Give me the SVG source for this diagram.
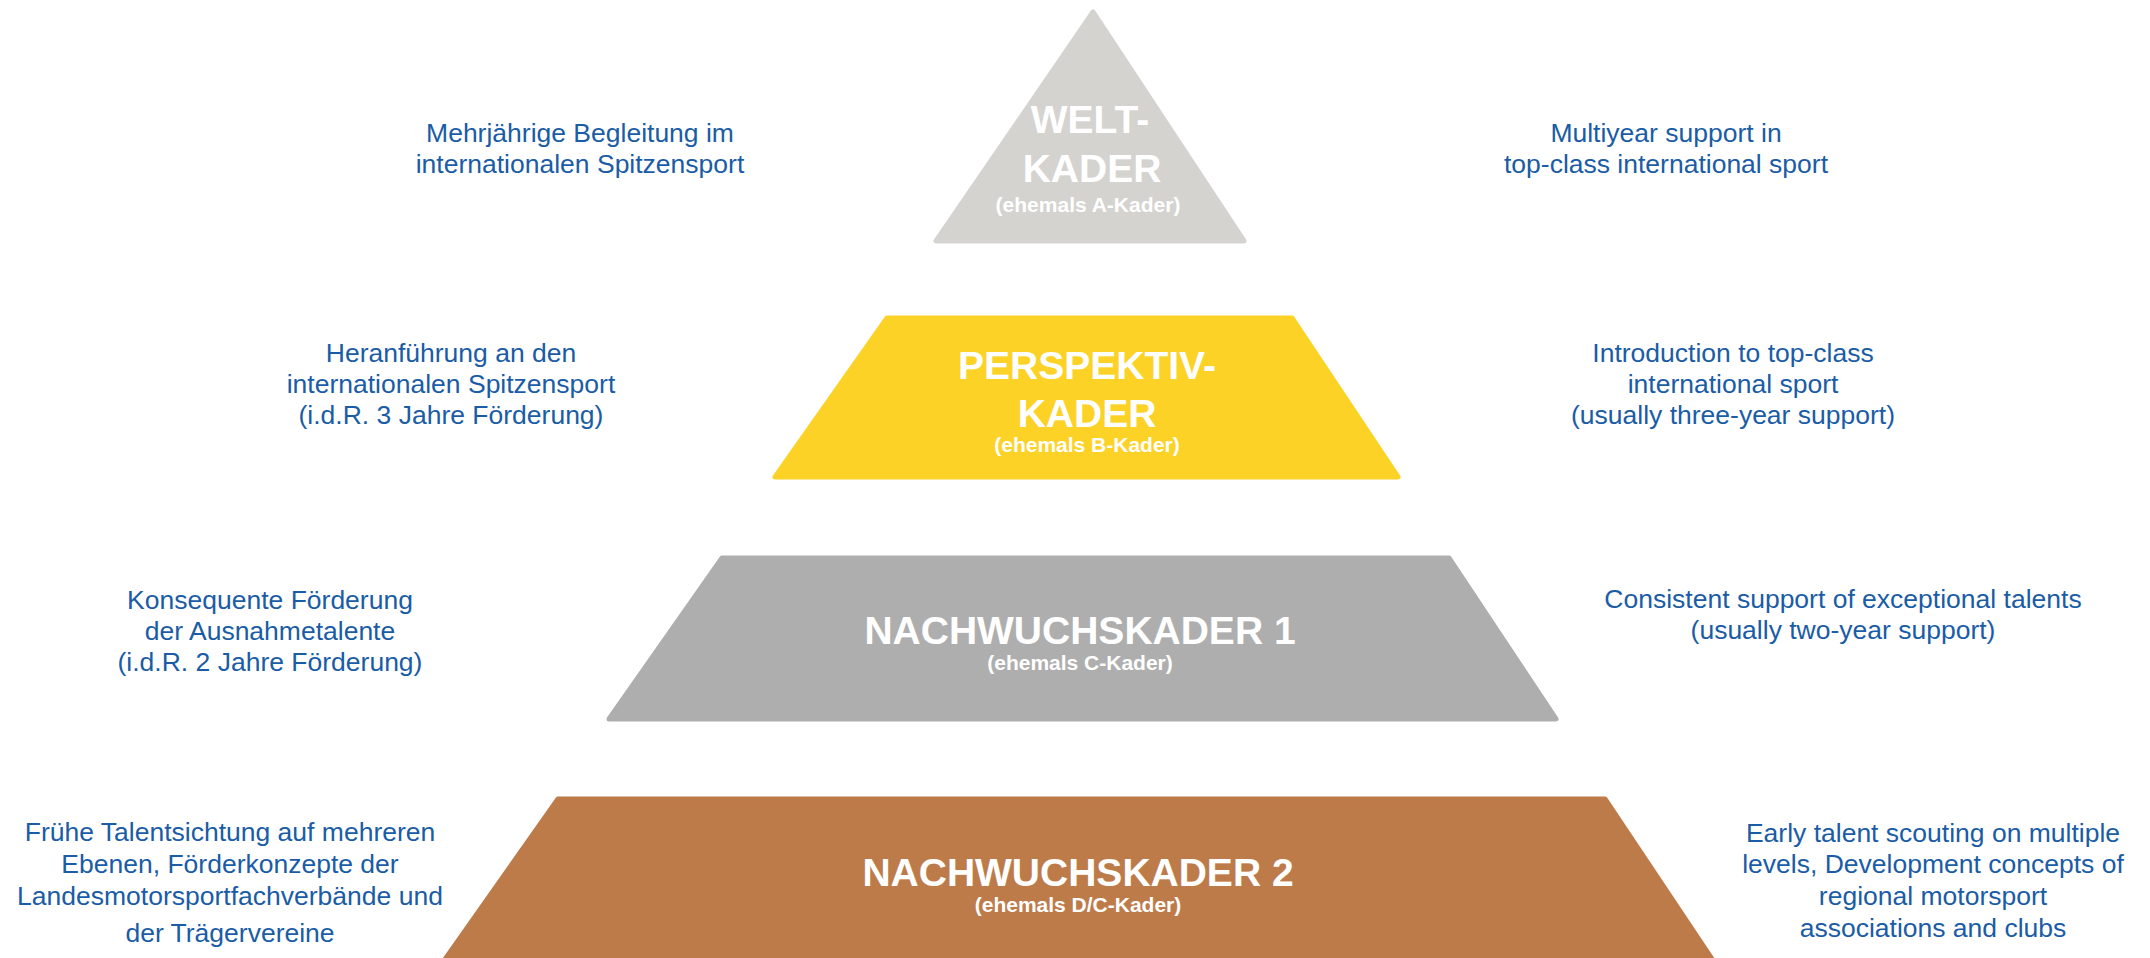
<svg xmlns="http://www.w3.org/2000/svg" width="2150" height="958" viewBox="0 0 2150 958">
<style>
.title{font-family:"Liberation Sans",Arial,sans-serif;font-weight:bold;font-size:39px;fill:#ffffff;text-anchor:middle}
.sub{font-family:"Liberation Sans",Arial,sans-serif;font-weight:bold;font-size:21px;fill:#ffffff;text-anchor:middle}
.desc{font-family:"Liberation Sans",Arial,sans-serif;font-size:26.5px;fill:#1a5ca5;text-anchor:middle}
.shape{stroke-linejoin:round;stroke-width:5}
</style>
<rect width="2150" height="958" fill="#ffffff"/>
<g id="level-welt">
<polygon class="shape" points="1093,12 936,241 1244,241" fill="#d4d3cf" stroke="#d4d3cf"/>
<text class="title" x="1090" y="133">WELT-</text>
<text class="title" x="1092" y="182">KADER</text>
<text class="sub" x="1088" y="212">(ehemals A-Kader)</text>
</g>
<g id="level-perspektiv">
<polygon class="shape" points="887,318 1292,318 1398,477 775,477" fill="#fdd226" stroke="#fdd226"/>
<text class="title" x="1087" y="379">PERSPEKTIV-</text>
<text class="title" x="1087" y="427">KADER</text>
<text class="sub" x="1087" y="452">(ehemals B-Kader)</text>
</g>
<g id="level-nachwuchs1">
<polygon class="shape" points="722,558 1449,558 1556,719 609,719" fill="#aeaeae" stroke="#aeaeae"/>
<text class="title" x="1080" y="644">NACHWUCHSKADER 1</text>
<text class="sub" x="1080" y="670">(ehemals C-Kader)</text>
</g>
<g id="level-nachwuchs2">
<polygon class="shape" points="558,799 1605,799 1716,965 441,965" fill="#be7b4a" stroke="#be7b4a"/>
<text class="title" x="1078" y="886">NACHWUCHSKADER 2</text>
<text class="sub" x="1078" y="912">(ehemals D/C-Kader)</text>
</g>
<g id="desc-welt-de">
<text class="desc" x="580" y="142">Mehrjährige Begleitung im</text>
<text class="desc" x="580" y="173">internationalen Spitzensport</text>
</g>
<g id="desc-welt-en">
<text class="desc" x="1666" y="142">Multiyear support in</text>
<text class="desc" x="1666" y="173">top-class international sport</text>
</g>
<g id="desc-perspektiv-de">
<text class="desc" x="451" y="362">Heranführung an den</text>
<text class="desc" x="451" y="393">internationalen Spitzensport</text>
<text class="desc" x="451" y="424">(i.d.R. 3 Jahre Förderung)</text>
</g>
<g id="desc-perspektiv-en">
<text class="desc" x="1733" y="362">Introduction to top-class</text>
<text class="desc" x="1733" y="393">international sport</text>
<text class="desc" x="1733" y="424">(usually three-year support)</text>
</g>
<g id="desc-nachwuchs1-de">
<text class="desc" x="270" y="609">Konsequente Förderung</text>
<text class="desc" x="270" y="640">der Ausnahmetalente</text>
<text class="desc" x="270" y="671">(i.d.R. 2 Jahre Förderung)</text>
</g>
<g id="desc-nachwuchs1-en">
<text class="desc" x="1843" y="608">Consistent support of exceptional talents</text>
<text class="desc" x="1843" y="639">(usually two-year support)</text>
</g>
<g id="desc-nachwuchs2-de">
<text class="desc" x="230" y="841">Frühe Talentsichtung auf mehreren</text>
<text class="desc" x="230" y="873">Ebenen, Förderkonzepte der</text>
<text class="desc" x="230" y="905">Landesmotorsportfachverbände und</text>
<text class="desc" x="230" y="942">der Trägervereine</text>
</g>
<g id="desc-nachwuchs2-en">
<text class="desc" x="1933" y="842">Early talent scouting on multiple</text>
<text class="desc" x="1933" y="873">levels, Development concepts of</text>
<text class="desc" x="1933" y="905">regional motorsport</text>
<text class="desc" x="1933" y="937">associations and clubs</text>
</g>
<g id="connectors"></g>
</svg>
